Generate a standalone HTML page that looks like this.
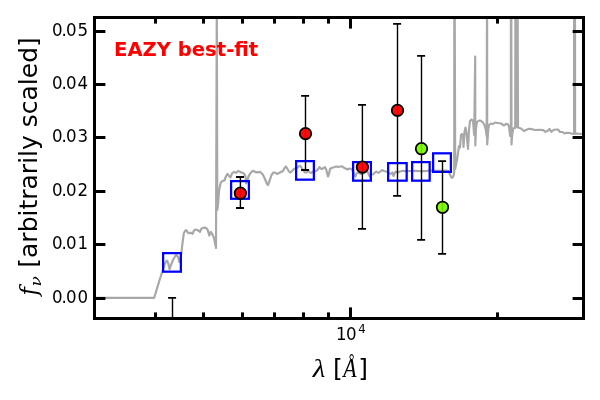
<!DOCTYPE html>
<html lang="en"><head><meta charset="utf-8"><title>EAZY best-fit</title>
<style>html,body{margin:0;padding:0;background:#fff;}body{width:600px;height:400px;overflow:hidden;}svg{display:block;}text{font-family:"DejaVu Sans","Liberation Sans",sans-serif;fill:#000;}.m{font-family:"Liberation Serif","DejaVu Serif",serif;font-style:italic;}.d{font-family:"DejaVu Serif","Liberation Serif",serif;font-style:italic;}</style></head><body>
<svg width="600" height="400" viewBox="0 0 600 400">
<rect x="0" y="0" width="600" height="400" fill="#fff"/>
<defs><clipPath id="ax"><rect x="94.5" y="17.5" width="489.00" height="301.00"/></clipPath></defs>
<g clip-path="url(#ax)">
<polyline points="94.6,297.8 154.2,297.8 160.2,278.0 162.8,270.0 164.7,264.0 166.2,261.2 167.2,260.6 168.4,264.0 169.6,269.2 171.0,265.0 173.0,260.0 175.0,256.5 176.3,254.7 178.0,257.0 179.5,262.2 180.6,258.0 181.5,252.0 182.5,243.0 183.8,233.5 185.0,231.0 186.2,230.2 187.5,232.0 188.5,233.2 190.5,232.7 192.5,233.8 194.0,230.5 195.7,229.5 197.5,230.0 200.0,231.8 201.5,228.5 203.5,227.8 205.5,227.6 207.2,229.0 208.2,231.5 209.2,235.5 210.8,232.0 212.2,234.0 214.0,238.0 215.0,243.0 216.0,248.0 216.8,0.0 217.3,210.0 218.2,203.0 219.0,191.0 220.5,183.4 222.0,181.2 224.5,180.4 225.5,177.4 227.5,173.9 229.0,175.9 230.5,177.4 232.0,173.4 234.0,171.9 236.0,172.9 238.0,170.9 240.0,171.9 241.5,172.4 244.0,173.4 245.5,176.4 246.2,183.4 247.5,180.4 248.5,176.4 250.0,173.9 252.0,171.4 253.5,170.9 255.0,171.9 257.0,172.4 260.0,171.9 262.5,174.0 265.0,179.0 267.0,184.0 268.0,185.0 269.5,181.0 271.5,175.0 273.5,172.5 275.0,172.5 277.0,174.0 280.0,172.5 283.0,171.0 284.5,168.0 286.0,166.5 287.5,169.0 289.0,171.5 290.5,172.5 292.5,170.5 294.5,168.5 296.5,168.5 298.5,166.5 300.0,165.8 301.5,167.5 303.0,170.0 305.0,172.5 306.5,172.5 308.0,171.0 310.0,172.5 311.5,173.0 313.0,171.5 315.0,171.2 317.0,170.5 318.5,168.5 319.5,167.0 320.5,168.5 322.0,169.0 323.5,168.0 325.0,167.2 326.2,169.5 327.2,173.5 328.0,176.5 329.0,174.0 330.0,169.0 331.5,168.0 334.0,167.2 336.0,166.5 338.5,166.8 340.5,166.5 342.0,166.2 343.5,167.5 345.5,168.5 347.5,169.5 349.5,168.5 351.5,169.0 353.0,171.5 354.5,175.5 355.5,176.5 356.5,173.5 358.5,172.5 360.5,174.0 363.0,173.5 366.0,172.0 367.5,171.5 369.0,175.0 369.8,176.5 371.0,174.0 373.0,174.5 375.0,172.5 376.5,171.5 378.5,173.0 380.5,171.5 382.0,170.0 384.0,171.0 386.0,171.5 388.5,172.5 390.0,174.0 391.5,173.5 392.5,172.5 393.5,176.0 394.5,173.5 396.0,171.5 398.0,172.5 400.0,171.5 403.0,170.8 406.0,171.2 410.0,171.0 415.0,170.8 420.0,171.2 425.0,171.2 430.0,170.5 435.0,170.8 440.0,170.8 445.0,170.5 448.0,170.8 449.6,173.5 451.0,177.0 452.4,177.8 453.5,176.0 454.2,172.0 454.3,0.0 454.7,0.0 455.2,169.0 457.0,160.0 458.0,153.0 459.0,146.0 460.0,147.5 461.0,135.0 462.0,134.0 463.0,135.0 463.5,147.0 464.5,132.0 465.5,127.5 466.5,133.0 468.0,149.0 469.0,130.0 470.0,121.0 471.5,119.5 473.0,121.0 474.2,135.0 475.2,56.5 475.3,145.5 476.0,128.0 477.0,122.0 479.0,120.5 481.0,120.8 483.0,122.5 484.5,125.0 485.8,130.0 486.7,136.0 487.0,0.0 487.1,0.0 487.2,144.5 488.2,130.0 489.0,125.0 491.0,123.5 493.0,124.0 495.0,122.5 497.0,123.0 498.0,123.0 501.0,123.5 504.0,125.5 506.0,123.8 507.5,124.0 509.0,126.0 510.1,136.0 510.9,130.0 510.9,0.0 511.3,0.0 511.5,144.5 512.3,134.0 513.3,128.3 515.2,128.0 515.4,0.0 516.0,127.0 516.5,0.0 517.0,127.0 517.5,0.0 517.6,0.0 518.0,127.5 519.5,128.0 521.0,128.5 524.0,131.0 526.0,130.0 529.0,128.8 532.0,129.2 535.0,130.0 539.0,129.8 543.0,130.0 545.5,131.8 547.5,131.0 549.5,129.0 551.5,131.8 553.5,130.0 556.0,129.5 558.0,129.5 560.0,132.0 562.5,132.0 564.5,133.5 566.5,132.8 570.0,133.0 573.0,134.0 574.1,133.5 574.1,0.0 575.0,0.0 575.1,134.0 577.0,133.5 581.5,134.0 584.0,134.0" fill="none" stroke="#a8a8a8" stroke-width="2.18" stroke-linejoin="round" stroke-linecap="butt"/>
<rect x="163.12" y="253.12" width="17.75" height="18.55" fill="none" stroke="#0000ff" stroke-width="2.25"/>
<rect x="231.12" y="181.12" width="17.75" height="17.65" fill="none" stroke="#0000ff" stroke-width="2.25"/>
<rect x="296.12" y="161.12" width="17.75" height="18.55" fill="none" stroke="#0000ff" stroke-width="2.25"/>
<rect x="353.12" y="162.12" width="17.75" height="18.55" fill="none" stroke="#0000ff" stroke-width="2.25"/>
<rect x="388.12" y="163.12" width="18.55" height="17.55" fill="none" stroke="#0000ff" stroke-width="2.25"/>
<rect x="412.12" y="162.12" width="17.55" height="18.55" fill="none" stroke="#0000ff" stroke-width="2.25"/>
<rect x="433.12" y="153.32" width="17.75" height="18.55" fill="none" stroke="#0000ff" stroke-width="2.25"/>
<g stroke="#000">
<line x1="172.5" y1="297.8" x2="172.5" y2="380" stroke-width="1.4"/>
<line x1="168.10" y1="297.8" x2="176.10" y2="297.8" stroke-width="1.8"/>
<line x1="168.10" y1="380" x2="176.10" y2="380" stroke-width="1.8"/>
</g>
<g stroke="#000">
<line x1="240.4" y1="177.0" x2="240.4" y2="208.0" stroke-width="1.4"/>
<line x1="236.00" y1="177.0" x2="244.00" y2="177.0" stroke-width="1.8"/>
<line x1="236.00" y1="208.0" x2="244.00" y2="208.0" stroke-width="1.8"/>
</g>
<g stroke="#000">
<line x1="305.5" y1="95.8" x2="305.5" y2="170.0" stroke-width="1.4"/>
<line x1="301.10" y1="95.8" x2="309.10" y2="95.8" stroke-width="1.8"/>
<line x1="301.10" y1="170.0" x2="309.10" y2="170.0" stroke-width="1.8"/>
</g>
<g stroke="#000">
<line x1="362.4" y1="104.8" x2="362.4" y2="228.8" stroke-width="1.4"/>
<line x1="358.00" y1="104.8" x2="366.00" y2="104.8" stroke-width="1.8"/>
<line x1="358.00" y1="228.8" x2="366.00" y2="228.8" stroke-width="1.8"/>
</g>
<g stroke="#000">
<line x1="397.5" y1="23.95" x2="397.5" y2="195.8" stroke-width="1.4"/>
<line x1="393.10" y1="23.95" x2="401.10" y2="23.95" stroke-width="1.8"/>
<line x1="393.10" y1="195.8" x2="401.10" y2="195.8" stroke-width="1.8"/>
</g>
<g stroke="#000">
<line x1="421.5" y1="55.9" x2="421.5" y2="239.8" stroke-width="1.4"/>
<line x1="417.10" y1="55.9" x2="425.10" y2="55.9" stroke-width="1.8"/>
<line x1="417.10" y1="239.8" x2="425.10" y2="239.8" stroke-width="1.8"/>
</g>
<g stroke="#000">
<line x1="442.5" y1="161.1" x2="442.5" y2="253.8" stroke-width="1.4"/>
<line x1="438.10" y1="161.1" x2="446.10" y2="161.1" stroke-width="1.8"/>
<line x1="438.10" y1="253.8" x2="446.10" y2="253.8" stroke-width="1.8"/>
</g>
<circle cx="240.4" cy="193.2" r="5.75" fill="#ff0a0a" stroke="#000" stroke-width="1.75"/>
<line x1="240.4" y1="188.32" x2="240.4" y2="198.07" stroke="#000" stroke-opacity="0.16" stroke-width="1.4"/>
<circle cx="305.5" cy="133.65" r="5.75" fill="#ff0a0a" stroke="#000" stroke-width="1.75"/>
<line x1="305.5" y1="128.78" x2="305.5" y2="138.53" stroke="#000" stroke-opacity="0.16" stroke-width="1.4"/>
<circle cx="362.4" cy="167.15" r="5.75" fill="#ff0a0a" stroke="#000" stroke-width="1.75"/>
<line x1="362.4" y1="162.28" x2="362.4" y2="172.03" stroke="#000" stroke-opacity="0.16" stroke-width="1.4"/>
<circle cx="397.5" cy="110.4" r="5.75" fill="#ff0a0a" stroke="#000" stroke-width="1.75"/>
<line x1="397.5" y1="105.53" x2="397.5" y2="115.28" stroke="#000" stroke-opacity="0.16" stroke-width="1.4"/>
<circle cx="421.5" cy="148.7" r="5.75" fill="#80fc0c" stroke="#000" stroke-width="1.75"/>
<line x1="421.5" y1="143.82" x2="421.5" y2="153.57" stroke="#000" stroke-opacity="0.16" stroke-width="1.4"/>
<circle cx="442.5" cy="207.3" r="5.75" fill="#80fc0c" stroke="#000" stroke-width="1.75"/>
<line x1="442.5" y1="202.43" x2="442.5" y2="212.18" stroke="#000" stroke-opacity="0.16" stroke-width="1.4"/>
</g>
<g fill="#000">
<rect x="154.0" y="312.40" width="3" height="6.10"/>
<rect x="154.0" y="17.5" width="3" height="6.10"/>
<rect x="202.0" y="312.40" width="3" height="6.10"/>
<rect x="202.0" y="17.5" width="3" height="6.10"/>
<rect x="241.0" y="312.40" width="3" height="6.10"/>
<rect x="241.0" y="17.5" width="3" height="6.10"/>
<rect x="273.0" y="312.40" width="3" height="6.10"/>
<rect x="273.0" y="17.5" width="3" height="6.10"/>
<rect x="302.0" y="312.40" width="3" height="6.10"/>
<rect x="302.0" y="17.5" width="3" height="6.10"/>
<rect x="327.0" y="312.40" width="3" height="6.10"/>
<rect x="327.0" y="17.5" width="3" height="6.10"/>
<rect x="349.0" y="307.40" width="3" height="11.10"/>
<rect x="349.0" y="17.5" width="3" height="11.10"/>
<rect x="496.0" y="312.40" width="3" height="6.10"/>
<rect x="496.0" y="17.5" width="3" height="6.10"/>
<rect x="94.5" y="297.0" width="10.90" height="3"/>
<rect x="572.60" y="297.0" width="10.90" height="3"/>
<rect x="94.5" y="243.0" width="10.90" height="3"/>
<rect x="572.60" y="243.0" width="10.90" height="3"/>
<rect x="94.5" y="190.0" width="10.90" height="3"/>
<rect x="572.60" y="190.0" width="10.90" height="3"/>
<rect x="94.5" y="136.0" width="10.90" height="3"/>
<rect x="572.60" y="136.0" width="10.90" height="3"/>
<rect x="94.5" y="83.0" width="10.90" height="3"/>
<rect x="572.60" y="83.0" width="10.90" height="3"/>
<rect x="94.5" y="30.0" width="10.90" height="3"/>
<rect x="572.60" y="30.0" width="10.90" height="3"/>
</g>
<rect x="94.5" y="17.5" width="489.00" height="301.00" fill="none" stroke="#000" stroke-width="3" stroke-linejoin="miter"/>
<text transform="translate(0,303.00) scale(1,1.1)" font-size="16.67" x="52.0 61.5 66.1 77.6" y="0">0.00</text>
<text transform="translate(0,249.00) scale(1,1.1)" font-size="16.67" x="52.0 61.5 66.1 77.6" y="0">0.01</text>
<text transform="translate(0,196.00) scale(1,1.1)" font-size="16.67" x="52.0 61.5 66.1 77.6" y="0">0.02</text>
<text transform="translate(0,142.00) scale(1,1.1)" font-size="16.67" x="52.0 61.5 66.1 77.6" y="0">0.03</text>
<text transform="translate(0,89.00) scale(1,1.1)" font-size="16.67" x="52.0 61.5 66.1 77.6" y="0">0.04</text>
<text transform="translate(0,36.00) scale(1,1.1)" font-size="16.67" x="52.0 61.5 66.1 77.6" y="0">0.05</text>
<text transform="translate(0,339.8) scale(1,1.05)" font-size="16.67" x="336.0 346.1" y="0">10<tspan font-size="11.67" x="358.3" y="-6.5">4</tspan></text>
<text transform="translate(114.0,55.8) scale(1.009,1)" font-size="19.44" font-weight="bold" style="fill:#ff0000">EAZY best-fit</text>
<text class="m" transform="translate(312.7,377.4) scale(1.17,1)" font-size="25">λ</text>
<text x="332.9" y="377.4" font-size="25">[</text>
<text class="m" transform="translate(343.3,377.4) scale(0.87,1.12)" font-size="25">Å</text>
<text x="358.2" y="377.4" font-size="25">]</text>
<g transform="translate(37.0,0) rotate(-90)">
<text id="yf" class="d" transform="translate(-295.4,0) scale(0.91,1)" font-size="25">f</text>
<text id="ynu" class="d" transform="translate(-286.4,3.7) scale(1.1,1)" font-size="15.5">ν</text>
<text id="ytxt" x="-37.2" y="0" font-size="25" text-anchor="end">[arbitrarily scaled]</text>
</g>
</svg></body></html>
